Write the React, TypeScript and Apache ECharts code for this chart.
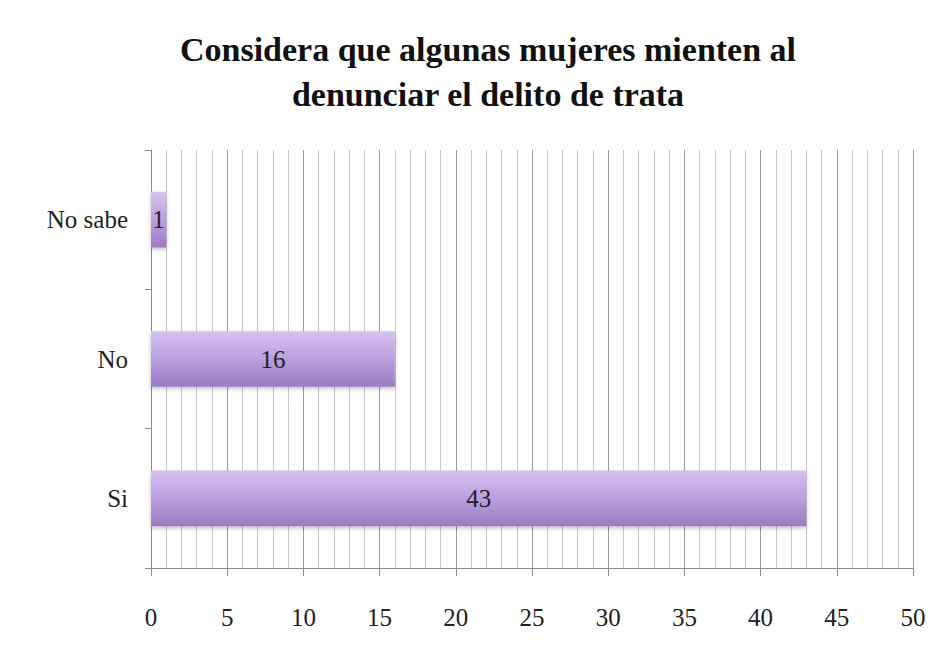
import React, { useEffect, useRef } from "react";
import * as echarts from "echarts";

const categories = ["Si", "No", "No sabe"];
const values = [43, 16, 1];
const titleText = "Considera que algunas mujeres mienten al\ndenunciar el delito de trata";

export default function App() {
  const ref = useRef<HTMLDivElement>(null);
  useEffect(() => {
    if (!ref.current) return;
    const chart = echarts.init(ref.current, undefined, { renderer: "svg" });
    const font = "'Liberation Serif', serif";
    chart.setOption({
      animation: false,
      backgroundColor: "#ffffff",
      title: {
        text: titleText,
        left: 483,
        top: 22,
        textAlign: "center",
        textStyle: {
          fontFamily: font,
          fontWeight: "bold",
          fontSize: 34,
          lineHeight: 45,
          color: "#111",
        },
      },
      grid: { left: 151, right: 21, top: 150, bottom: 94, containLabel: false },
      xAxis: {
        type: "value",
        min: 0,
        max: 50,
        interval: 5,
        axisLine: { show: true, lineStyle: { color: "#8c8c8c", width: 1 } },
        axisTick: { show: true, length: 8, lineStyle: { color: "#8c8c8c" } },
        axisLabel: { fontFamily: font, fontSize: 25, color: "#222", margin: 37 },
        splitLine: { show: true, lineStyle: { color: "#9a9a9a", width: 1 } },
        minorTick: { show: false, splitNumber: 5 },
        minorSplitLine: { show: true, lineStyle: { color: "#c8c8c8", width: 1 } },
      },
      yAxis: {
        type: "category",
        data: categories,
        axisLine: { show: true, lineStyle: { color: "#8c8c8c", width: 1 } },
        axisTick: { show: true, length: 6, lineStyle: { color: "#8c8c8c" } },
        axisLabel: {
          fontFamily: font,
          fontSize: 25,
          color: "#222",
          margin: 23,
          padding: [7, 0, 0, 0],
        },
      },
      series: [
        {
          type: "bar",
          data: values,
          barWidth: "40%",
          itemStyle: {
            color: new echarts.graphic.LinearGradient(0, 0, 0, 1, [
              { offset: 0, color: "#d5c1f0" },
              { offset: 0.5, color: "#b9a0de" },
              { offset: 1, color: "#9a7bc3" },
            ]),
            shadowColor: "rgba(0,0,0,0.25)",
            shadowBlur: 4,
            shadowOffsetY: 2,
          },
          label: {
            show: true,
            position: "inside",
            fontFamily: font,
            fontSize: 25,
            color: "#222",
            padding: [5, 0, 0, 0],
          },
        },
      ],
    });
    return () => chart.dispose();
  }, []);
  return <div ref={ref} style={{ width: 934, height: 662, position: "absolute", left: 0, top: 0 }} />;
}
